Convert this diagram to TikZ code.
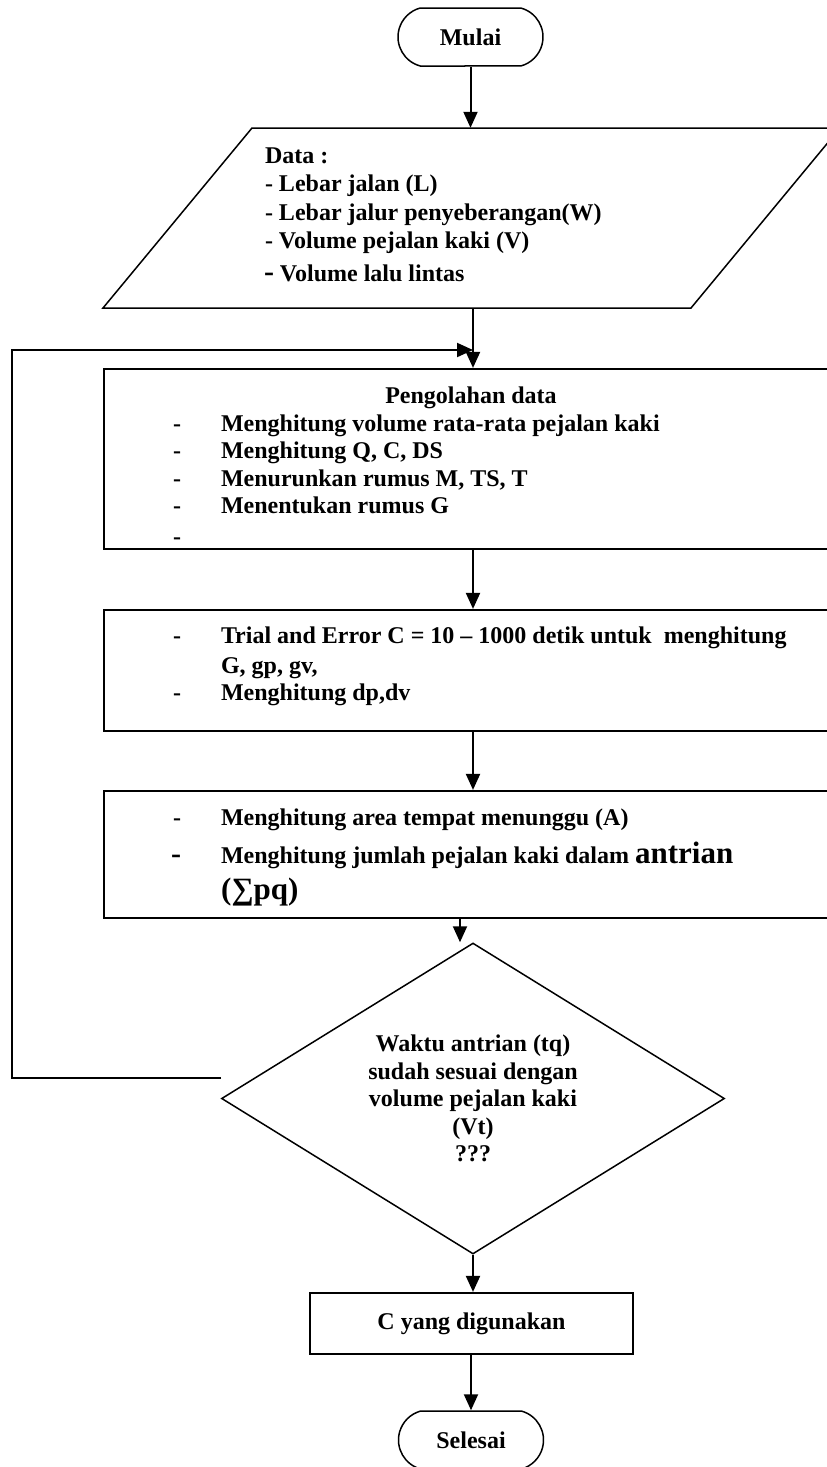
\documentclass[tikz,border=0pt]{standalone}
\usepackage{fontspec}
\setmainfont{Liberation Serif}
\usetikzlibrary{arrows.meta,shapes.geometric,shapes.misc}
\begin{document}
\begin{tikzpicture}[x=1pt,y=-1pt,
  txt/.style={font=\bfseries\fontsize{24}{27.5}\selectfont, inner sep=0pt, outer sep=0pt},
  bigtxt/.style={font=\bfseries\fontsize{31}{31}\selectfont, inner sep=0pt},
  box/.style={draw, line width=2.2pt, rectangle, inner sep=0pt},
  term/.style={draw, line width=1.5pt, rounded rectangle, rounded rectangle arc length=150,
               minimum width=145pt, minimum height=58pt, inner sep=0pt,
               font=\bfseries\fontsize{24}{27.5}\selectfont},
  arr/.style={line width=2pt, -{Triangle[length=16pt,width=14pt]}},
  para/.style={line width=1.5pt, line join=miter}
]
\useasboundingbox (0,0) rectangle (827,1467);

% shapes
\node[term] (start) at (470.5,37) {Mulai};
\node[rectangle, inner sep=0pt, minimum width=588pt, minimum height=180pt] (data) at (472,218) {};
\draw[para] (252,128) -- (840,128) -- (691,308) -- (103,308) -- cycle;
\node[box, minimum width=738pt, minimum height=180pt] (proc) at (473,459) {};
\node[box, minimum width=738pt, minimum height=121pt] (trial) at (473,670.5) {};
\node[box, minimum width=738pt, minimum height=127pt] (area) at (473,854.5) {};
\node[draw, line width=1.5pt, diamond, aspect=1.617, minimum width=503pt, minimum height=311pt,
      inner sep=0pt, align=center, font=\bfseries\fontsize{24}{27.5}\selectfont]
      (dia) at (473,1098.5) {Waktu antrian (tq)\\sudah sesuai dengan\\volume pejalan kaki\\(Vt)\\???};
\node[box, minimum width=323pt, minimum height=61pt, font=\bfseries\fontsize{24}{27.5}\selectfont]
      (cbox) at (471.5,1323.5) {C yang digunakan};
\node[term] (end) at (471,1440) {Selesai};

% data texts
\node[txt, anchor=base west] (d0) at (265,163) {Data :};
\node[txt, anchor=base west] (d1) at (265,191) {- Lebar jalan (L)};
\node[txt, anchor=base west] (d2) at (265,220) {- Lebar jalur penyeberangan(W)};
\node[txt, anchor=base west] (d3) at (265,248) {- Volume pejalan kaki (V)};
\node[txt, anchor=base west] (d4) at (264,281) {{\fontsize{30}{30}\selectfont -} Volume lalu lintas};

% processing texts
\node[txt, anchor=base] (p0) at (471,403) {Pengolahan data};
\node[txt, anchor=base west] (pd1) at (173,431) {-};
\node[txt, anchor=base west] (p1) at (221,431) {Menghitung volume rata-rata pejalan kaki};
\node[txt, anchor=base west] (pd2) at (173,458) {-};
\node[txt, anchor=base west] (p2) at (221,458) {Menghitung Q, C, DS};
\node[txt, anchor=base west] (pd3) at (173,486) {-};
\node[txt, anchor=base west] (p3) at (221,486) {Menurunkan rumus M, TS, T};
\node[txt, anchor=base west] (pd4) at (173,513) {-};
\node[txt, anchor=base west] (p4) at (221,513) {Menentukan rumus G};
\node[txt, anchor=base west] (pd5) at (173,544) {-};

% trial texts
\node[txt, anchor=base west] (td1) at (173,643) {-};
\node[txt, anchor=base west] (t1) at (221,643) {Trial and Error C = 10 – 1000 detik untuk\ \ menghitung};
\node[txt, anchor=base west] (t2) at (221,673) {G, gp, gv,};
\node[txt, anchor=base west] (td3) at (173,700) {-};
\node[txt, anchor=base west] (t3) at (221,700) {Menghitung dp,dv};

% area texts
\node[txt, anchor=base west] (ad1) at (173,825) {-};
\node[txt, anchor=base west] (a1) at (221,825) {Menghitung area tempat menunggu (A)};
\node[txt, anchor=base west] (ad2) at (171,863) {{\fontsize{30}{30}\selectfont -}};
\node[txt, anchor=base west] (a2) at (221,863) {Menghitung jumlah pejalan kaki dalam {\fontsize{31}{31}\selectfont antrian}};
\node[bigtxt, anchor=base west] (a3) at (221,899) {(∑pq)};

% connectors
\draw[arr] (start.south) -- (data.north -| start.south);
\coordinate (merge) at (473,350);
\draw[arr] (data.south -| proc.north) -- (proc.north);
\draw[arr] (proc.south) -- (trial.north);
\draw[arr] (trial.south) -- (area.north);
\draw[arr] ([xshift=-13pt]area.south) -- ([xshift=-13pt]dia.north);
\draw[arr] (dia.south) -- (cbox.north -| dia.south);
\draw[arr] (cbox.south -| end.north) -- (end.north);

% feedback loop
\coordinate (fbstart) at (221,1078);
\coordinate (fbbot) at (12,1078);
\coordinate (fbtop) at (12,350);
\draw[arr] (fbstart) -- (fbbot) -- (fbtop) -- (merge);
\end{tikzpicture}
\end{document}
